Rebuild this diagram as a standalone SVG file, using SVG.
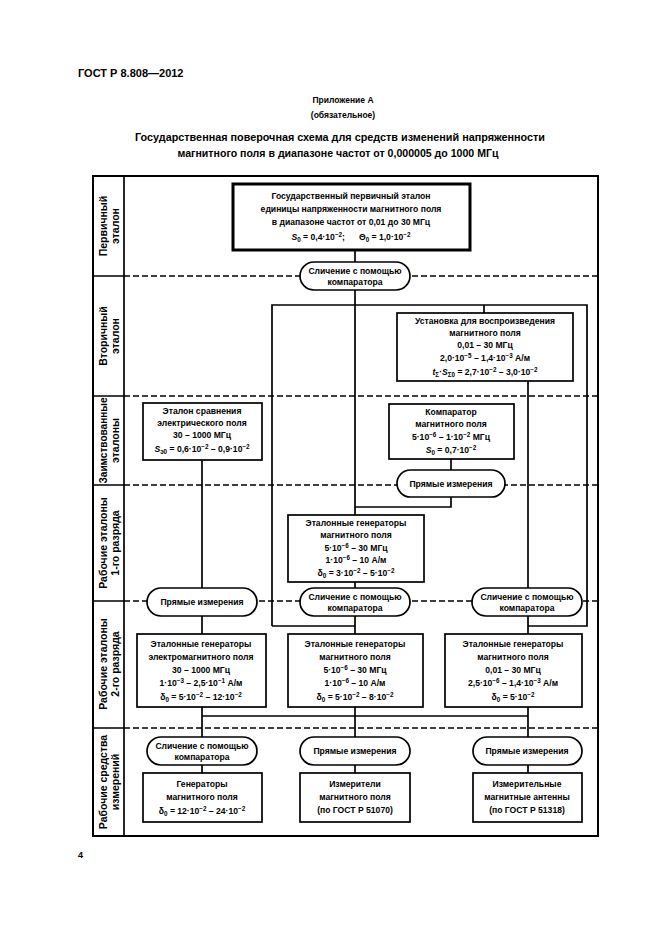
<svg xmlns="http://www.w3.org/2000/svg" width="661" height="936" viewBox="0 0 661 936">
<style>
.t{font-family:"Liberation Sans",Arial,sans-serif;font-weight:bold;font-size:8.6px;text-anchor:middle;fill:#000}
.h{font-family:"Liberation Sans",Arial,sans-serif;font-weight:bold;fill:#000}
.lab{font-family:"Liberation Sans",Arial,sans-serif;font-weight:bold;font-size:10.5px;text-anchor:middle;fill:#000}
.s{font-size:6.3px}
.box{fill:#fff;stroke:#000;stroke-width:1.7}
.ln{fill:none;stroke:#000;stroke-width:1.7}
.dash{fill:none;stroke:#000;stroke-width:1.3;stroke-dasharray:6 3}
</style>
<rect width="661" height="936" fill="#fff"/>
<g id="header">
<text class="h" x="78" y="77" font-size="11">ГОСТ Р 8.808—2012</text>
<text class="h" x="343" y="103" font-size="8.5" text-anchor="middle">Приложение А</text>
<text class="h" x="343" y="118" font-size="8.5" text-anchor="middle">(обязательное)</text>
<text class="h" x="340" y="141" font-size="11" text-anchor="middle" textLength="410" lengthAdjust="spacingAndGlyphs">Государственная поверочная схема для средств изменений напряженности</text>
<text class="h" x="338" y="157" font-size="11" text-anchor="middle" textLength="321" lengthAdjust="spacingAndGlyphs">магнитного поля в диапазоне частот от 0,000005 до 1000 МГц</text>
<text class="h" x="78" y="858" font-size="9" font-weight="normal">4</text>
</g>
<g id="frame">
<rect x="93" y="176" width="505" height="660" fill="none" stroke="#000" stroke-width="2"/>
<line x1="124" y1="176" x2="124" y2="836" class="ln"/>
<path class="ln" d="M93 276H124M93 396H124M93 485H124M93 601H124M93 728H124"/>
<path class="dash" d="M124 276H598M124 396H598M124 485H598M124 601H598M124 728H598"/>
</g>
<g id="row-labels">
<text class="lab" transform="translate(107,226) rotate(-90)">Первичный</text>
<text class="lab" transform="translate(119,226) rotate(-90)">эталон</text>
<text class="lab" transform="translate(107,336) rotate(-90)">Вторичный</text>
<text class="lab" transform="translate(119,336) rotate(-90)">эталон</text>
<text class="lab" transform="translate(107,440.5) rotate(-90)" textLength="86" lengthAdjust="spacingAndGlyphs">Заимствованные</text>
<text class="lab" transform="translate(119,440.5) rotate(-90)">эталоны</text>
<text class="lab" transform="translate(107,543) rotate(-90)">Рабочие эталоны</text>
<text class="lab" transform="translate(119,543) rotate(-90)">1-го разряда</text>
<text class="lab" transform="translate(107,664) rotate(-90)">Рабочие эталоны</text>
<text class="lab" transform="translate(119,664) rotate(-90)">2-го разряда</text>
<text class="lab" transform="translate(107,782) rotate(-90)">Рабочие средства</text>
<text class="lab" transform="translate(119,782) rotate(-90)">измерений</text>
</g>
<g id="connectors">
<path class="ln" d="M355 250V262M355 290V515"/>
<path class="ln" d="M272 626V305H587V626H528M272 626H355"/>
<path class="ln" d="M484 305V313"/>
<path class="ln" d="M528 381V588"/>
<path class="ln" d="M202 460V588"/>
<path class="ln" d="M451 459V470M451 497V507H355"/>
<path class="ln" d="M355 582V588M355 616V634M202 616V634M528 616V634"/>
<path class="ln" d="M202 707V737M355 707V737M528 707V737M202 716H528"/>
<path class="ln" d="M202 765V773M355 765V773M528 765V773"/>
</g>
<g id="n-primary">
<rect x="233" y="184" width="237" height="66" fill="#fff" stroke="#000" stroke-width="3"/>
<text class="t" x="351" y="199">Государственный первичный эталон</text>
<text class="t" x="351" y="212">единицы напряженности магнитного поля</text>
<text class="t" x="351" y="225">в диапазоне частот от 0,01 до 30 МГц</text>
<text class="t" x="351" y="240" font-size="9.5"><tspan font-style="italic">S</tspan><tspan class="s" dy="2">0</tspan><tspan dy="-2"> = 0,4·10</tspan><tspan class="s" dy="-3.5">−2</tspan><tspan dy="3.5">;</tspan><tspan dx="14">Θ</tspan><tspan class="s" dy="2">0</tspan><tspan dy="-2"> = 1,0·10</tspan><tspan class="s" dy="-3.5">−2</tspan></text>
</g>
<g id="s-compare-1">
<rect class="box" x="300" y="262" width="110" height="28" rx="14"/>
<text class="t" x="355" y="274">Сличение с помощью</text>
<text class="t" x="355" y="285">компаратора</text>
</g>
<g id="n-secondary">
<rect class="box" x="397" y="313" width="176" height="68"/>
<text class="t" x="485" y="324">Установка для воспроизведения</text>
<text class="t" x="485" y="336">магнитного поля</text>
<text class="t" x="485" y="348">0,01 – 30 МГц</text>
<text class="t" x="485" y="361">2,0·10<tspan class="s" dy="-3.5">−5</tspan><tspan dy="3.5"> – 1,4·10</tspan><tspan class="s" dy="-3.5">−3</tspan><tspan dy="3.5"> А/м</tspan></text>
<text class="t" x="485" y="375"><tspan font-style="italic">t</tspan><tspan class="s" dy="2">Σ</tspan><tspan dy="-2">·</tspan><tspan font-style="italic">S</tspan><tspan class="s" dy="2">Σ0</tspan><tspan dy="-2"> = 2,7·10</tspan><tspan class="s" dy="-3.5">−2</tspan><tspan dy="3.5"> – 3,0·10</tspan><tspan class="s" dy="-3.5">−2</tspan></text>
</g>
<g id="n-compare-el">
<rect class="box" x="143" y="403" width="119" height="57"/>
<text class="t" x="202" y="414">Эталон сравнения</text>
<text class="t" x="202" y="426">электрического поля</text>
<text class="t" x="202" y="438">30 – 1000 МГц</text>
<text class="t" x="202" y="452"><tspan font-style="italic">S</tspan><tspan class="s" dy="2">э0</tspan><tspan dy="-2"> = 0,6·10</tspan><tspan class="s" dy="-3.5">−2</tspan><tspan dy="3.5"> – 0,9·10</tspan><tspan class="s" dy="-3.5">−2</tspan></text>
</g>
<g id="n-comparator">
<rect class="box" x="389" y="404" width="125" height="55"/>
<text class="t" x="451" y="415">Компаратор</text>
<text class="t" x="451" y="427">магнитного поля</text>
<text class="t" x="451" y="440">5·10<tspan class="s" dy="-3.5">−6</tspan><tspan dy="3.5"> – 1·10</tspan><tspan class="s" dy="-3.5">−2</tspan><tspan dy="3.5"> МГц</tspan></text>
<text class="t" x="451" y="453"><tspan font-style="italic">S</tspan><tspan class="s" dy="2">0</tspan><tspan dy="-2"> = 0,7·10</tspan><tspan class="s" dy="-3.5">−2</tspan></text>
</g>
<g id="s-direct-1">
<rect class="box" x="397" y="470" width="108" height="27" rx="13.5"/>
<text class="t" x="451" y="486.5">Прямые измерения</text>
</g>
<g id="n-work1">
<rect class="box" x="288" y="515" width="136" height="67"/>
<text class="t" x="356" y="526">Эталонные генераторы</text>
<text class="t" x="356" y="538">магнитного поля</text>
<text class="t" x="356" y="551">5·10<tspan class="s" dy="-3.5">−6</tspan><tspan dy="3.5"> – 30 МГц</tspan></text>
<text class="t" x="356" y="563">1·10<tspan class="s" dy="-3.5">−6</tspan><tspan dy="3.5"> – 10 А/м</tspan></text>
<text class="t" x="356" y="576">δ<tspan class="s" dy="2">0</tspan><tspan dy="-2"> = 3·10</tspan><tspan class="s" dy="-3.5">−2</tspan><tspan dy="3.5"> – 5·10</tspan><tspan class="s" dy="-3.5">−2</tspan></text>
</g>
<g id="s-direct-2">
<rect class="box" x="147" y="588" width="110" height="28" rx="14"/>
<text class="t" x="202" y="605">Прямые измерения</text>
</g>
<g id="s-compare-2">
<rect class="box" x="300" y="588" width="110" height="28" rx="14"/>
<text class="t" x="355" y="600">Сличение с помощью</text>
<text class="t" x="355" y="611">компаратора</text>
</g>
<g id="s-compare-3">
<rect class="box" x="472" y="588" width="110" height="28" rx="14"/>
<text class="t" x="527" y="600">Сличение с помощью</text>
<text class="t" x="527" y="611">компаратора</text>
</g>
<g id="n-work2-left">
<rect class="box" x="137" y="634" width="129" height="73"/>
<text class="t" x="201" y="647">Эталонные генераторы</text>
<text class="t" x="201" y="660">электромагнитного поля</text>
<text class="t" x="201" y="673">30 – 1000 МГц</text>
<text class="t" x="201" y="686">1·10<tspan class="s" dy="-3.5">−3</tspan><tspan dy="3.5"> – 2,5·10</tspan><tspan class="s" dy="-3.5">−1</tspan><tspan dy="3.5"> А/м</tspan></text>
<text class="t" x="201" y="700">δ<tspan class="s" dy="2">0</tspan><tspan dy="-2"> = 5·10</tspan><tspan class="s" dy="-3.5">−2</tspan><tspan dy="3.5"> – 12·10</tspan><tspan class="s" dy="-3.5">−2</tspan></text>
</g>
<g id="n-work2-mid">
<rect class="box" x="288" y="634" width="135" height="73"/>
<text class="t" x="355" y="647">Эталонные генераторы</text>
<text class="t" x="355" y="660">магнитного поля</text>
<text class="t" x="355" y="673">5·10<tspan class="s" dy="-3.5">−6</tspan><tspan dy="3.5"> – 30 МГц</tspan></text>
<text class="t" x="355" y="686">1·10<tspan class="s" dy="-3.5">−6</tspan><tspan dy="3.5"> – 10 А/м</tspan></text>
<text class="t" x="355" y="700">δ<tspan class="s" dy="2">0</tspan><tspan dy="-2"> = 5·10</tspan><tspan class="s" dy="-3.5">−2</tspan><tspan dy="3.5"> – 8·10</tspan><tspan class="s" dy="-3.5">−2</tspan></text>
</g>
<g id="n-work2-right">
<rect class="box" x="445" y="634" width="137" height="73"/>
<text class="t" x="513" y="647">Эталонные генераторы</text>
<text class="t" x="513" y="660">магнитного поля</text>
<text class="t" x="513" y="673">0,01 – 30 МГц</text>
<text class="t" x="513" y="686">2,5·10<tspan class="s" dy="-3.5">−6</tspan><tspan dy="3.5"> – 1,4·10</tspan><tspan class="s" dy="-3.5">−3</tspan><tspan dy="3.5"> А/м</tspan></text>
<text class="t" x="513" y="700">δ<tspan class="s" dy="2">0</tspan><tspan dy="-2"> = 5·10</tspan><tspan class="s" dy="-3.5">−2</tspan></text>
</g>
<g id="s-compare-4">
<rect class="box" x="147" y="737" width="110" height="28" rx="14"/>
<text class="t" x="202" y="749">Сличение с помощью</text>
<text class="t" x="202" y="760">компаратора</text>
</g>
<g id="s-direct-3">
<rect class="box" x="300" y="737" width="110" height="28" rx="14"/>
<text class="t" x="355" y="754">Прямые измерения</text>
</g>
<g id="s-direct-4">
<rect class="box" x="473" y="737" width="109" height="28" rx="14"/>
<text class="t" x="527" y="754">Прямые измерения</text>
</g>
<g id="n-gen">
<rect class="box" x="143" y="773" width="119" height="49"/>
<text class="t" x="202" y="787">Генераторы</text>
<text class="t" x="202" y="800">магнитного поля</text>
<text class="t" x="202" y="814">δ<tspan class="s" dy="2">0</tspan><tspan dy="-2"> = 12·10</tspan><tspan class="s" dy="-3.5">−2</tspan><tspan dy="3.5"> – 24·10</tspan><tspan class="s" dy="-3.5">−2</tspan></text>
</g>
<g id="n-meters">
<rect class="box" x="300" y="773" width="110" height="49"/>
<text class="t" x="355" y="787">Измерители</text>
<text class="t" x="355" y="800">магнитного поля</text>
<text class="t" x="355" y="813">(по ГОСТ Р 51070)</text>
</g>
<g id="n-antennas">
<rect class="box" x="473" y="773" width="109" height="49"/>
<text class="t" x="527" y="787">Измерительные</text>
<text class="t" x="527" y="800">магнитные антенны</text>
<text class="t" x="527" y="813">(по ГОСТ Р 51318)</text>
</g>
</svg>
